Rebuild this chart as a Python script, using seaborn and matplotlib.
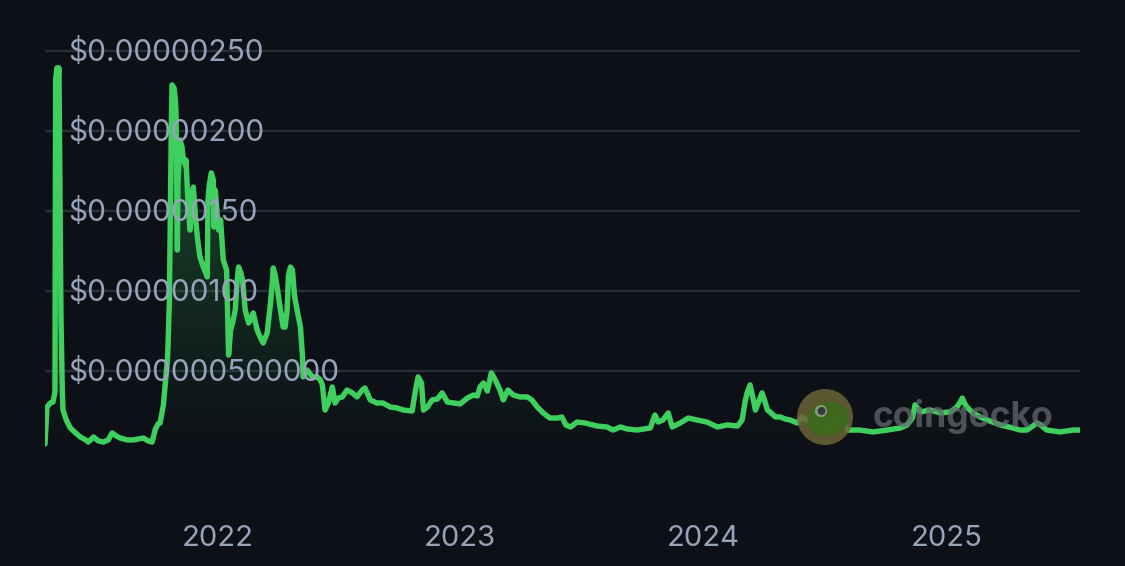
import numpy as np
import pandas as pd
import matplotlib
matplotlib.use("Agg")
import matplotlib.pyplot as plt
import matplotlib.dates as mdates
import matplotlib.transforms as mtransforms
from matplotlib.patches import Polygon, Circle, Ellipse
from matplotlib.colors import to_rgb
import seaborn as sns

# ---------------- data (price in USD x 1e-6) ----------------
dates = [
    "2021-04-17", "2021-04-20", "2021-04-25", "2021-04-29", "2021-05-02", "2021-05-03",
    "2021-05-05", "2021-05-07", "2021-05-08", "2021-05-10", "2021-05-11", "2021-05-13",
    "2021-05-14", "2021-05-19", "2021-05-25", "2021-06-02", "2021-06-09", "2021-06-17",
    "2021-06-21", "2021-06-29", "2021-07-06", "2021-07-14", "2021-07-21", "2021-07-27",
    "2021-08-02", "2021-08-08", "2021-08-19", "2021-08-28", "2021-09-04", "2021-09-12",
    "2021-09-19", "2021-09-25", "2021-09-30", "2021-10-04", "2021-10-07", "2021-10-12",
    "2021-10-15", "2021-10-18", "2021-10-19", "2021-10-21", "2021-10-22", "2021-10-24",
    "2021-10-25", "2021-10-28", "2021-10-30", "2021-10-31", "2021-11-02", "2021-11-03",
    "2021-11-06", "2021-11-09", "2021-11-11", "2021-11-14", "2021-11-15", "2021-11-18",
    "2021-11-21", "2021-11-24", "2021-11-26", "2021-11-29", "2021-12-02", "2021-12-06",
    "2021-12-11", "2021-12-14", "2021-12-17", "2021-12-18", "2021-12-20", "2021-12-23",
    "2021-12-26", "2021-12-27", "2021-12-29", "2022-01-01", "2022-01-03", "2022-01-06",
    "2022-01-10", "2022-01-15", "2022-01-16", "2022-01-18", "2022-01-21", "2022-01-24",
    "2022-01-28", "2022-01-31", "2022-02-02", "2022-02-05", "2022-02-08", "2022-02-12",
    "2022-02-17", "2022-02-20", "2022-02-24", "2022-03-02", "2022-03-07", "2022-03-11",
    "2022-03-17", "2022-03-22", "2022-03-25", "2022-03-26", "2022-03-29", "2022-04-01",
    "2022-04-06", "2022-04-10", "2022-04-13", "2022-04-16", "2022-04-18", "2022-04-21",
    "2022-04-24", "2022-04-27", "2022-05-01", "2022-05-06", "2022-05-09", "2022-05-10",
    "2022-05-16", "2022-05-24", "2022-05-31", "2022-06-05", "2022-06-08", "2022-06-12",
    "2022-06-17", "2022-06-23", "2022-06-27", "2022-07-02", "2022-07-08", "2022-07-15",
    "2022-07-23", "2022-07-30", "2022-08-07", "2022-08-11", "2022-08-19", "2022-08-29",
    "2022-09-07", "2022-09-18", "2022-09-28", "2022-10-08", "2022-10-21", "2022-10-26",
    "2022-10-30", "2022-11-04", "2022-11-07", "2022-11-13", "2022-11-20", "2022-11-28",
    "2022-12-05", "2022-12-13", "2022-12-22", "2023-01-01", "2023-01-12", "2023-01-21",
    "2023-01-27", "2023-01-31", "2023-02-05", "2023-02-11", "2023-02-17", "2023-02-23",
    "2023-03-02", "2023-03-07", "2023-03-14", "2023-03-22", "2023-04-01", "2023-04-12",
    "2023-04-19", "2023-04-27", "2023-05-06", "2023-05-16", "2023-05-28", "2023-06-03",
    "2023-06-09", "2023-06-16", "2023-06-26", "2023-07-08", "2023-07-26", "2023-08-10",
    "2023-08-19", "2023-08-30", "2023-09-09", "2023-09-24", "2023-10-14", "2023-10-21",
    "2023-10-26", "2023-11-02", "2023-11-10", "2023-11-16", "2023-11-28", "2023-12-10",
    "2023-12-23", "2024-01-07", "2024-01-23", "2024-02-07", "2024-02-22", "2024-02-29",
    "2024-03-05", "2024-03-08", "2024-03-12", "2024-03-17", "2024-03-20", "2024-03-26",
    "2024-03-30", "2024-04-04", "2024-04-07", "2024-04-11", "2024-04-19", "2024-04-26",
    "2024-05-04", "2024-05-11", "2024-05-22", "2024-05-29", "2024-06-10", "2024-06-25",
    "2024-07-10", "2024-07-22", "2024-07-30", "2024-08-06", "2024-08-24", "2024-09-13",
    "2024-10-04", "2024-10-24", "2024-11-03", "2024-11-11", "2024-11-15", "2024-11-23",
    "2024-11-30", "2024-12-08", "2024-12-23", "2025-01-07", "2025-01-17", "2025-01-22",
    "2025-01-25", "2025-01-29", "2025-02-01", "2025-02-10", "2025-02-21", "2025-03-03",
    "2025-03-23", "2025-04-11", "2025-04-22", "2025-05-02", "2025-05-11", "2025-05-17",
    "2025-05-23", "2025-06-01", "2025-06-21", "2025-07-11", "2025-07-21",
]
price_micro = [
    0.044, 0.275, 0.300, 0.306, 0.369, 2.319,
    2.394, 2.350, 2.394, 1.381, 0.838, 0.381,
    0.256, 0.194, 0.144, 0.113, 0.088, 0.069,
    0.056, 0.088, 0.063, 0.056, 0.069, 0.113,
    0.094, 0.081, 0.069, 0.069, 0.075, 0.081,
    0.063, 0.056, 0.138, 0.169, 0.175, 0.288,
    0.431, 0.569, 0.663, 0.944, 1.338, 2.069,
    2.288, 2.269, 2.194, 2.113, 1.256, 1.694,
    1.944, 1.900, 1.819, 1.788, 1.819, 1.550,
    1.381, 1.569, 1.650, 1.475, 1.338, 1.213,
    1.150, 1.119, 1.088, 1.569, 1.663, 1.738,
    1.694, 1.400, 1.631, 1.475, 1.381, 1.444,
    1.194, 1.131, 0.944, 0.600, 0.756, 0.800,
    0.881, 1.069, 1.150, 1.119, 1.069, 0.881,
    0.800, 0.819, 0.863, 0.756, 0.706, 0.675,
    0.738, 0.925, 1.069, 1.144, 1.100, 1.025,
    0.881, 0.775, 0.775, 0.881, 1.100, 1.150,
    1.131, 0.975, 0.881, 0.775, 0.600, 0.463,
    0.506, 0.463, 0.463, 0.444, 0.413, 0.256,
    0.300, 0.400, 0.300, 0.331, 0.338, 0.381,
    0.363, 0.338, 0.381, 0.394, 0.319, 0.300,
    0.300, 0.275, 0.269, 0.256, 0.250, 0.381,
    0.463, 0.425, 0.256, 0.275, 0.319, 0.325,
    0.363, 0.306, 0.300, 0.294, 0.331, 0.350,
    0.344, 0.400, 0.425, 0.375, 0.488, 0.444,
    0.381, 0.319, 0.381, 0.350, 0.338, 0.338,
    0.319, 0.275, 0.238, 0.206, 0.206, 0.213,
    0.163, 0.150, 0.181, 0.175, 0.156, 0.150,
    0.131, 0.150, 0.138, 0.131, 0.144, 0.225,
    0.181, 0.194, 0.238, 0.150, 0.175, 0.206,
    0.194, 0.181, 0.150, 0.163, 0.156, 0.194,
    0.319, 0.369, 0.413, 0.319, 0.256, 0.319,
    0.363, 0.300, 0.256, 0.244, 0.213, 0.213,
    0.200, 0.194, 0.175, 0.213, 0.181, 0.163,
    0.150, 0.194, 0.181, 0.131, 0.131, 0.119,
    0.131, 0.144, 0.163, 0.206, 0.288, 0.244,
    0.250, 0.256, 0.238, 0.244, 0.275, 0.306,
    0.331, 0.294, 0.275, 0.238, 0.213, 0.194,
    0.163, 0.144, 0.131, 0.131, 0.156, 0.175,
    0.163, 0.131, 0.119, 0.131, 0.131,
]

ytick_values = [0.5e-6, 1.0e-6, 1.5e-6, 2.0e-6, 2.5e-6]
ytick_labels = ["$0.000000500000", "$0.00000100", "$0.00000150",
                "$0.00000200", "$0.00000250"]
xtick_dates = ["2022-01-01", "2023-01-01", "2024-01-01", "2025-01-01"]
xtick_labels = ["2022", "2023", "2024", "2025"]

# ---------------- style ----------------
BG = "#0d1117"
GREEN = "#3ecf5e"
GRID = "#282e3a"
LABEL = "#97a3b9"

sns.set_theme(style="dark")
plt.rcParams["font.family"] = ["Inter", "DejaVu Sans"]

df = pd.DataFrame({"date": pd.to_datetime(dates),
                   "price": np.array(price_micro) * 1e-6})

W, H = 1125, 566
fig = plt.figure(figsize=(W / 100, H / 100), dpi=100, facecolor=BG)
ax = fig.add_axes([45 / W, 1 - 451 / H, 1035 / W, 420 / H])
ax.set_facecolor(BG)

YMAX = 2.625e-6
sns.lineplot(data=df, x="date", y="price", ax=ax, color=GREEN,
             linewidth=3.9, zorder=3)
for ln in ax.lines:
    ln.set_solid_joinstyle("round")
    ln.set_solid_capstyle("round")

# gradient fill under the line
xnum = mdates.date2num(df["date"])
verts = [(xnum[0], 0)] + list(zip(xnum, df["price"])) + [(xnum[-1], 0)]
poly = Polygon(verts, closed=True, facecolor="none", edgecolor="none")
ax.add_patch(poly)
n = 256
rgba = np.zeros((n, 1, 4))
rgba[..., :3] = to_rgb(GREEN)
rgba[:, 0, 3] = np.linspace(0, 1, n) ** 1.1 * 0.40
im = ax.imshow(rgba, extent=[xnum[0], xnum[-1], 0, YMAX], origin="lower",
               aspect="auto", zorder=2, interpolation="bilinear")
im.set_clip_path(poly)

ax.set_xlim(xnum[0], xnum[-1])
ax.set_ylim(0, YMAX)

# grid + ticks
ax.set_yticks(ytick_values)
ax.grid(axis="y", color=GRID, linewidth=1.7)
ax.grid(axis="x", visible=False)
ax.tick_params(axis="y", left=False, labelleft=False, length=0)
ax.set_xticks(mdates.date2num(pd.to_datetime(xtick_dates)))
ax.set_xticklabels(xtick_labels)
ax.tick_params(axis="x", length=0, pad=53, labelsize=21, labelcolor=LABEL)
for s in ax.spines.values():
    s.set_visible(False)
ax.set_xlabel("")
ax.set_ylabel("")

trans = mtransforms.blended_transform_factory(ax.transAxes, ax.transData)
for v, lab in zip(ytick_values, ytick_labels):
    ax.text(23 / 1035, v - 0.012e-6, lab, transform=trans, ha="left", va="center",
            fontsize=21.5, color=LABEL, zorder=6)

# watermark
inch = fig.dpi_scale_trans
cx, cy = 825 / 100, (H - 417) / 100
fig.patches.append(Circle((cx, cy), 0.28, transform=inch, facecolor="#6c6436",
                          edgecolor="none", alpha=0.85, zorder=7))
fig.patches.append(Ellipse((cx + 0.03, cy - 0.02), 0.42, 0.34, angle=15, transform=inch,
                           facecolor="#3a6a1b", edgecolor="none", alpha=0.9, zorder=8))
fig.patches.append(Circle((cx - 0.04, cy + 0.06), 0.06, transform=inch, facecolor="#c9ccd0",
                          edgecolor="none", alpha=0.55, zorder=9))
fig.patches.append(Circle((cx - 0.035, cy + 0.06), 0.04, transform=inch, facecolor="#2a2f35",
                          edgecolor="none", alpha=0.9, zorder=10))
fig.text(873 / W, 1 - 416 / H, "coingecko", ha="left", va="center",
         fontsize=25.5, fontweight="bold", color="#64676d", alpha=0.75, zorder=11)

fig.savefig("out.png", dpi=100, facecolor=BG)
